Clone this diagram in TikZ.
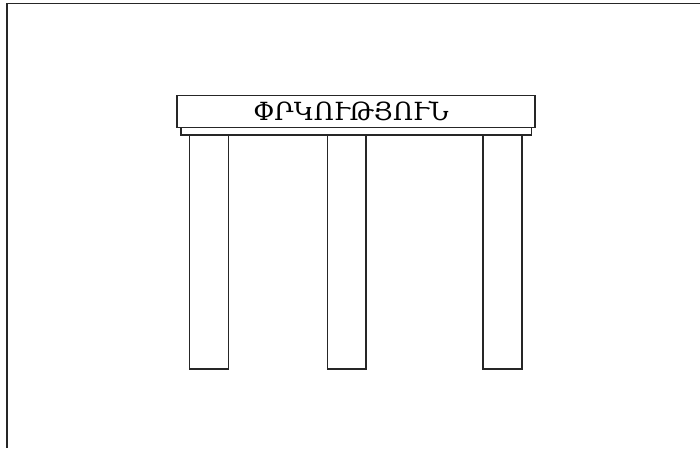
\documentclass[tikz,border=0pt]{standalone}
\usepackage{fontspec}
\newfontfamily\armfont{DejaVu Serif}
\begin{document}
\begin{tikzpicture}[x=1pt,y=-1pt,
  part/.style={draw=black!85,line width=1.6pt,fill=white},
  edge/.style={draw=black!85,line width=1.6pt}]
\useasboundingbox (0,0) rectangle (700,448);
\coordinate (tl) at (7,3.5);
\coordinate (tr) at (700,3.5);
\coordinate (bl) at (7,448);
\draw[edge] (tr) -- (tl) -- (bl);
\node[part,minimum width=39pt,minimum height=234pt,inner sep=0pt,anchor=north west] (c1) at (188.5,134) {};
\node[part,minimum width=38.5pt,minimum height=234pt,inner sep=0pt,anchor=north west] (c2) at (326.5,134) {};
\node[part,minimum width=39pt,minimum height=234pt,inner sep=0pt,anchor=north west] (c3) at (482,134) {};
\node[part,minimum width=350.5pt,minimum height=8pt,inner sep=0pt,anchor=north west] (plinth) at (180,126) {};
\node[part,minimum width=358pt,minimum height=32pt,inner sep=0pt,anchor=north west] (beam) at (176,94.5) {};
\node[font=\armfont\fontsize{25}{30}\selectfont,inner sep=0pt] (t) at (351,111) {ՓՐԿՈՒԹՅՈՒՆ};
\end{tikzpicture}
\end{document}
